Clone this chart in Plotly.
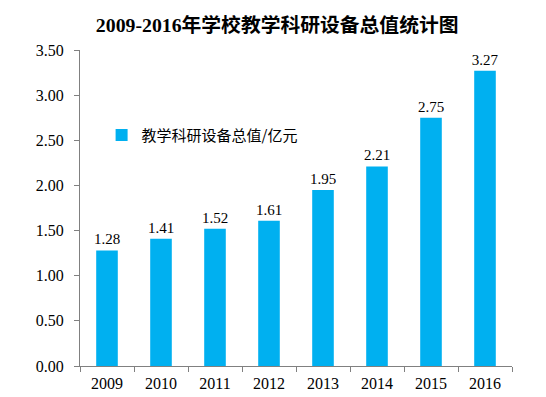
import plotly.graph_objects as go

years = ["2009", "2010", "2011", "2012", "2013", "2014", "2015", "2016"]
values = [1.28, 1.41, 1.52, 1.61, 1.95, 2.21, 2.75, 3.27]
value_labels = ["1.28", "1.41", "1.52", "1.61", "1.95", "2.21", "2.75", "3.27"]
series_name = "教学科研设备总值/亿元"
title = "2009-2016年学校教学科研设备总值统计图"
y_ticks = [0, 0.5, 1.0, 1.5, 2.0, 2.5, 3.0, 3.5]

serif = "Liberation Serif, Times New Roman, Noto Sans CJK SC, serif"

fig = go.Figure()
fig.add_trace(go.Bar(
    x=years, y=values, name=series_name,
    marker=dict(color="#00B0F0", line=dict(width=0)),
    text=value_labels, textposition="outside", cliponaxis=False,
    constraintext="none",
    textfont=dict(family=serif, size=15, color="#000000"),
    showlegend=True,
))

fig.update_layout(
    width=546, height=397,
    margin=dict(l=72, r=42, t=42, b=39),
    paper_bgcolor="white", plot_bgcolor="white",
    bargap=0.6,
    title=dict(text="<b>" + title + "</b>", x=0.493, xanchor="center", y=0.957, yanchor="middle",
               font=dict(family="Liberation Serif, Noto Sans CJK SC, serif", size=19.8, color="#000000")),
    legend=dict(x=0.05, y=0.73, xanchor="left", yanchor="middle",
                font=dict(family="Noto Sans CJK SC, sans-serif", size=15, color="#000000"),
                bgcolor="rgba(0,0,0,0)", itemwidth=30),
    xaxis=dict(showline=True, linecolor="#808080", linewidth=1,
               ticks="outside", ticklen=5, tickcolor="#808080", tickson="boundaries",
               ticklabelstandoff=3,
               tickfont=dict(family=serif, size=16, color="#000000"), showgrid=False),
    yaxis=dict(range=[0, 3.5], tickvals=y_ticks, tickformat=".2f",
               showline=True, linecolor="#808080", linewidth=1,
               ticks="outside", ticklen=5, tickcolor="#808080",
               ticklabelstandoff=7,
               tickfont=dict(family=serif, size=16, color="#000000"),
               showgrid=False, zeroline=False),
)

fig.write_html("out.html")
